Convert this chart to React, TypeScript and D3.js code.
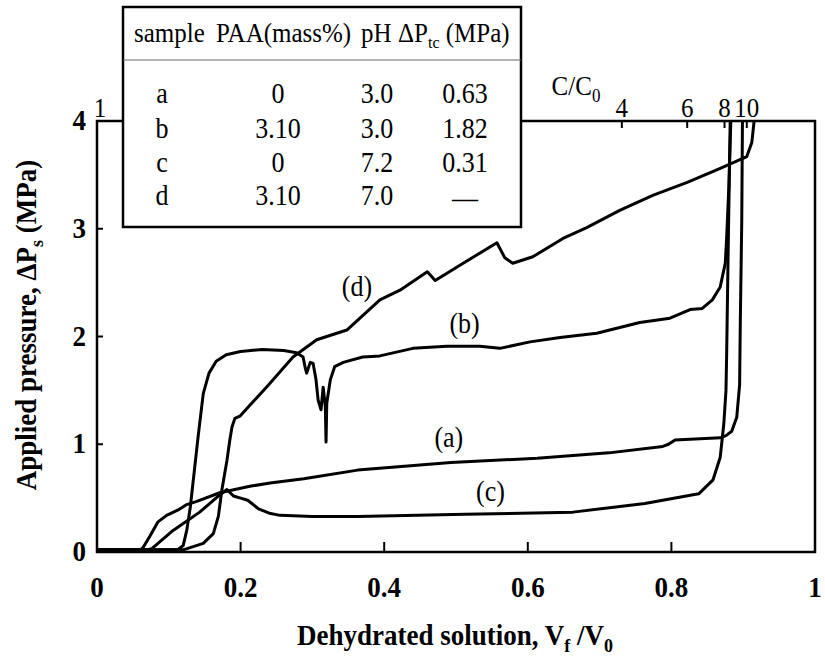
import React from 'react';
import * as d3 from 'd3';

const W = 825;
const H = 657;

// table contents
const tableHeader = ['sample', 'PAA(mass%)', 'pH'];
const sampleIds = ['a', 'b', 'c', 'd'];
const paaMass = ['0', '3.10', '0', '3.10'];
const phValues = ['3.0', '3.0', '7.2', '7.0'];
const dPtc = ['0.63', '1.82', '0.31', '—'];

// axes
const xTicks = [0, 0.2, 0.4, 0.6, 0.8, 1];
const yTicks = [0, 1, 2, 3, 4];
const topTickLabels = ['1', '4', '6', '8', '10'];
const topTickPos = [0, 0.731, 0.822, 0.874, 0.905]; // in Vf/V0 units

// curves: [Vf/V0, MPa]
const curveA: [number, number][] = [
  [0, 0.02], [0.06, 0.02], [0.064, 0.04], [0.074, 0.15], [0.085, 0.28], [0.097, 0.34], [0.113, 0.39],
  [0.125, 0.44], [0.139, 0.47], [0.171, 0.55], [0.213, 0.61], [0.241, 0.64], [0.288, 0.68], [0.363, 0.76],
  [0.493, 0.83], [0.613, 0.87], [0.713, 0.92], [0.788, 0.98], [0.796, 1.0], [0.805, 1.04], [0.868, 1.06],
  [0.876, 1.08], [0.884, 1.12], [0.891, 1.25], [0.895, 1.55], [0.896, 2.15], [0.898, 3.08], [0.899, 4.05],
];
const curveB: [number, number][] = [
  [0, 0.02], [0.112, 0.02], [0.12, 0.06], [0.125, 0.2], [0.13, 0.42], [0.135, 0.72], [0.141, 1.08],
  [0.148, 1.47], [0.156, 1.66], [0.166, 1.77], [0.18, 1.83], [0.2, 1.86], [0.23, 1.88], [0.26, 1.87],
  [0.278, 1.85], [0.287, 1.81], [0.29, 1.71], [0.292, 1.66], [0.297, 1.76], [0.301, 1.75], [0.305, 1.6],
  [0.308, 1.41], [0.312, 1.32], [0.315, 1.53], [0.318, 1.35], [0.319, 1.02], [0.320, 1.38], [0.325, 1.6],
  [0.331, 1.72], [0.343, 1.76], [0.37, 1.81], [0.394, 1.82], [0.44, 1.89], [0.487, 1.91], [0.533, 1.91],
  [0.561, 1.89], [0.603, 1.95], [0.645, 1.99], [0.696, 2.03], [0.756, 2.13], [0.798, 2.17], [0.826, 2.25],
  [0.843, 2.26], [0.857, 2.34], [0.868, 2.46], [0.875, 2.68], [0.877, 2.92], [0.88, 3.39], [0.883, 4.05],
];
const curveC: [number, number][] = [
  [0, 0.02], [0.07, 0.02], [0.076, 0.03], [0.106, 0.2], [0.143, 0.37], [0.171, 0.53], [0.181, 0.58],
  [0.19, 0.52], [0.2, 0.5], [0.21, 0.48], [0.225, 0.4], [0.24, 0.36], [0.255, 0.34], [0.3, 0.33],
  [0.363, 0.33], [0.513, 0.35], [0.663, 0.37], [0.763, 0.45], [0.838, 0.54], [0.858, 0.67], [0.868, 0.88],
  [0.873, 1.19], [0.876, 1.5], [0.877, 1.85], [0.879, 2.77], [0.882, 4.05],
];
const curveD: [number, number][] = [
  [0, 0.02], [0.12, 0.02], [0.148, 0.08], [0.162, 0.17], [0.169, 0.33], [0.174, 0.58], [0.181, 0.85],
  [0.185, 1.04], [0.188, 1.16], [0.192, 1.24], [0.199, 1.26], [0.236, 1.53], [0.273, 1.81], [0.306, 1.97],
  [0.348, 2.06], [0.394, 2.34], [0.422, 2.43], [0.46, 2.6], [0.471, 2.52], [0.51, 2.68], [0.557, 2.87],
  [0.568, 2.73], [0.579, 2.68], [0.607, 2.74], [0.649, 2.91], [0.682, 3.01], [0.728, 3.17], [0.774, 3.31],
  [0.822, 3.43], [0.868, 3.56], [0.905, 3.67], [0.912, 3.8], [0.916, 4.05],
];
const curves = [curveA, curveB, curveC, curveD];

// curve labels: [label, Vf/V0, MPa]
const curveLabels: [string, number, number][] = [
  ['(a)', 0.49, 0.97], ['(b)', 0.512, 2.03], ['(c)', 0.548, 0.47], ['(d)', 0.362, 2.38],
];

const FONT = 'Liberation Serif, Times New Roman, serif';
const SY = 1.1; // vertical stretch of the original lettering

const margin = { left: 97, right: 10, top: 121, bottom: 105 };

function Txt(props: { x: number; y: number; size: number; bold?: boolean; anchor?: string; sy?: number; children: React.ReactNode }) {
  const { x, y, size, bold, anchor, sy, children } = props;
  return (
    <text
      transform={`translate(${x},${y}) scale(1,${sy ?? SY})`}
      fontFamily={FONT}
      fontSize={size}
      fontWeight={bold ? 'bold' : 'normal'}
      textAnchor={anchor ?? 'start'}
      fill="#000"
    >
      {children}
    </text>
  );
}

export default function App() {
  const x = d3.scaleLinear().domain([0, 1]).range([margin.left, W - margin.right]);
  const y = d3.scaleLinear().domain([0, 4]).range([H - margin.bottom, margin.top]);
  const line = d3.line<[number, number]>().x(d => x(d[0])).y(d => y(d[1]));

  const x0 = x(0), x1 = x(1), y0 = y(0), y1 = y(4);

  // table geometry
  const tb = { left: 123, right: 521, top: 7, bottom: 227 };
  const rowY = [103, 138, 172, 205];
  const colX = [162, 278, 377, 465];

  return (
    <svg width={W} height={H} style={{ position: 'absolute', left: 0, top: 0, background: '#fff' }}>
      <defs>
        <clipPath id="plot">
          <rect x={x0} y={y1} width={x1 - x0} height={y0 - y1} />
        </clipPath>
      </defs>

      {/* curves */}
      <g clipPath="url(#plot)">
        {curves.map((c, i) => (
          <path key={i} d={line(c) ?? ''} fill="none" stroke="#000" strokeWidth={3} strokeLinejoin="round" strokeLinecap="round" />
        ))}
      </g>

      {/* frame */}
      <rect x={x0} y={y1} width={x1 - x0} height={y0 - y1} fill="none" stroke="#000" strokeWidth={2.5} />

      {/* bottom ticks */}
      {xTicks.slice(1, -1).map(t => (
        <line key={t} x1={x(t)} x2={x(t)} y1={y0} y2={y0 - 10} stroke="#000" strokeWidth={2} />
      ))}
      {xTicks.map(t => (
        <Txt key={t} x={x(t)} y={597} size={27} bold anchor="middle">{d3.format('~g')(t)}</Txt>
      ))}

      {/* left ticks */}
      {yTicks.slice(1, -1).map(t => (
        <line key={t} x1={x0} x2={x0 + 6} y1={y(t)} y2={y(t)} stroke="#000" strokeWidth={2} />
      ))}
      {yTicks.map(t => (
        <Txt key={t} x={86} y={y(t) + 9} size={27} bold anchor="end">{t}</Txt>
      ))}

      {/* top C/C0 axis */}
      {topTickPos.slice(1).map(p => (
        <line key={p} x1={x(p)} x2={x(p)} y1={y1} y2={y1 + 7} stroke="#000" strokeWidth={2} />
      ))}
      {topTickPos.map((p, i) => (
        <Txt key={i} x={x(p) + (i === 0 ? 3 : 0)} y={117} size={25} anchor="middle">{topTickLabels[i]}</Txt>
      ))}
      <Txt x={576} y={95} size={25} anchor="middle">
        C/C<tspan dy={6} fontSize={17}>0</tspan>
      </Txt>

      {/* curve labels */}
      {curveLabels.map(([l, cx, cy]) => (
        <Txt key={l} x={x(cx)} y={y(cy)} size={26} anchor="middle">{l}</Txt>
      ))}

      {/* axis titles */}
      <Txt x={455} y={645} size={27} bold anchor="middle">
        Dehydrated solution, V<tspan dy={6} fontSize={18}>f</tspan><tspan dy={-6}> /V</tspan><tspan dy={6} fontSize={18}>0</tspan>
      </Txt>
      <g transform="translate(36,325) rotate(-90)">
        <Txt x={0} y={0} size={27} bold anchor="middle">
          Applied pressure, ΔP<tspan dy={6} fontSize={18}>s</tspan><tspan dy={-6}> (MPa)</tspan>
        </Txt>
      </g>

      {/* sample table */}
      <rect x={tb.left} y={tb.top} width={tb.right - tb.left} height={tb.bottom - tb.top} fill="#fff" stroke="#000" strokeWidth={2.5} />
      <line x1={tb.left} x2={tb.right} y1={60} y2={60} stroke="#666" strokeWidth={1.2} />
      <Txt x={134} y={42} size={25}>{tableHeader[0]}</Txt>
      <Txt x={216} y={42} size={25}>{tableHeader[1]}</Txt>
      <Txt x={361} y={42} size={25}>{tableHeader[2]}</Txt>
      <Txt x={398} y={42} size={25}>
        ΔP<tspan dy={5} fontSize={16}>tc</tspan><tspan dy={-5}> (MPa)</tspan>
      </Txt>
      {sampleIds.map((s, i) => (
        <g key={s}>
          <Txt x={colX[0]} y={rowY[i]} size={26} anchor="middle">{s}</Txt>
          <Txt x={colX[1]} y={rowY[i]} size={26} anchor="middle">{paaMass[i]}</Txt>
          <Txt x={colX[2]} y={rowY[i]} size={26} anchor="middle">{phValues[i]}</Txt>
          <Txt x={colX[3]} y={rowY[i] + (dPtc[i] === '—' ? 3 : 0)} size={26} anchor="middle">{dPtc[i]}</Txt>
        </g>
      ))}
    </svg>
  );
}
